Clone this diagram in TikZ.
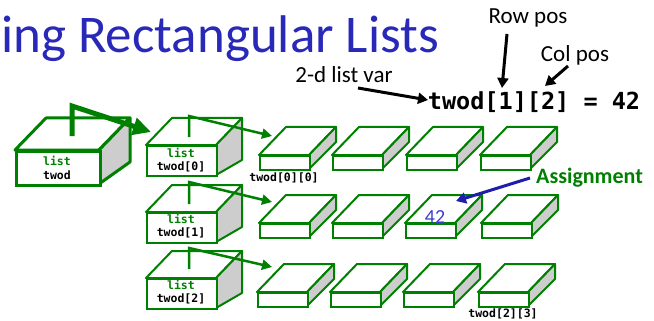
\documentclass[tikz,border=0pt]{standalone}
\usepackage{fontspec}
\setmainfont{Carlito}
\newfontfamily\codefont{DejaVu Sans Mono}
\usetikzlibrary{calc,arrows.meta}
\definecolor{boxgreen}{RGB}{0,128,0}
\definecolor{titleblue}{RGB}{40,40,185}
\definecolor{numblue}{RGB}{60,60,205}
\definecolor{arrowblue}{RGB}{30,30,170}
\definecolor{sidegrey}{RGB}{205,205,205}
\tikzset{
  frontface/.style={draw=boxgreen, fill=white, inner sep=0pt, anchor=north west},
  facetop/.style={draw=boxgreen, fill=white, line join=round},
  faceside/.style={draw=boxgreen, fill=sidegrey, line join=round},
  code/.style={font=\codefont\bfseries\fontsize{11.5}{12}\selectfont, inner sep=0pt},
  label/.style={font=\fontsize{23}{25}\selectfont, inner sep=0pt},
  bigarrow/.style={draw=boxgreen, line width=5pt, -{Triangle[length=18pt,width=17pt]}},
  ptrarrow/.style={draw=boxgreen, line width=2.5pt, -{Triangle[length=10pt,width=10pt]}},
  blackarrow/.style={draw=black, line width=3pt, -{Triangle[length=10pt,width=11pt]}},
  bluearrow/.style={draw=arrowblue, line width=3pt, -{Triangle[length=10pt,width=11pt]}},
}
% #1 name, #2 x, #3 y (front top-left, pixels down), #4 width, #5 height,
% #6 depth dx, #7 rise of top back edge, #8 rise of bottom back edge, #9 line width
\newcommand\drawcube[9]{%
  \filldraw[facetop, line width=#9] (#2,#3) -- ++(#6,-#7) -- ++(#4,0) -- ++(-#6,#7) -- cycle;
  \filldraw[faceside, line width=#9] (#2+#4,#3) -- ++(#6,-#7) -- ++(0,#7-#8+#5) -- ++(-#6,#8) -- cycle;
  \node[frontface, line width=#9, minimum width=#4pt, minimum height=#5pt] (#1) at (#2,#3) {};
}
\begin{document}
\begin{tikzpicture}[x=1pt,y=-1pt]
\useasboundingbox (0,0) rectangle (654,321);
% title
\node[anchor=base west, inner sep=0pt, text=titleblue, font=\fontsize{53}{58}\selectfont] (title) at (1,53) {ing Rectangular Lists};
% big list box
\drawcube{L}{15}{150}{84}{34}{31}{32}{22}{3pt}
\node[code, text=boxgreen] (Llist) at (57,161) {list};
\node[code] (Lname) at (57,175) {twod};
% row list boxes
\drawcube{L0}{146}{145}{70}{30}{26}{27}{15}{2pt}
\drawcube{L1}{146}{212}{70}{30}{26}{27}{15}{2pt}
\drawcube{L2}{146}{278}{70}{30}{26}{27}{15}{2pt}
\node[code, text=boxgreen] (L0list) at (181,153) {list};
\node[code] (L0name) at (181,167) {twod[0]};
\node[code, text=boxgreen] (L1list) at (181,219) {list};
\node[code] (L1name) at (181,233) {twod[1]};
\node[code, text=boxgreen] (L2list) at (181,285) {list};
\node[code] (L2name) at (181,299) {twod[2]};
% cells
\drawcube{c00}{259}{155}{50}{14}{27}{28}{27}{2pt}
\drawcube{c01}{332}{155}{50}{14}{27}{28}{27}{2pt}
\drawcube{c02}{406}{155}{50}{14}{27}{28}{27}{2pt}
\drawcube{c03}{480}{155}{50}{14}{27}{28}{27}{2pt}
\drawcube{c10}{259}{223}{50}{14}{27}{28}{27}{2pt}
\drawcube{c11}{332}{223}{50}{14}{27}{28}{27}{2pt}
\drawcube{c12}{405}{223}{50}{14}{27}{28}{27}{2pt}
\drawcube{c13}{481}{223}{50}{14}{27}{28}{27}{2pt}
\drawcube{c20}{257}{292}{50}{14}{27}{28}{27}{2pt}
\drawcube{c21}{330}{292}{50}{14}{27}{28}{27}{2pt}
\drawcube{c22}{403}{292}{50}{14}{27}{28}{27}{2pt}
\drawcube{c23}{478}{292}{50}{14}{27}{28}{27}{2pt}
\node[code] (lab00) at (284,178) {twod[0][0]};
\node[code] (lab23) at (503,314) {twod[2][3]};
\node[inner sep=0pt, text=numblue, font=\fontsize{20}{22}\selectfont] (val) at (435,217) {42};
% pointer arrows
\coordinate (Ls) at (72,136);
\coordinate (Lc) at (72,106);
\coordinate (Lt) at (151,132);
\draw[bigarrow] (Ls) -- (Lc) -- (Lt);
\coordinate (P0s) at (189,137);
\coordinate (P0c) at (189,116);
\coordinate (P0t) at (272,136);
\draw[ptrarrow] (P0s) -- (P0c) -- (P0t);
\coordinate (P1s) at (189,204);
\coordinate (P1c) at (189,182);
\coordinate (P1t) at (272,202);
\draw[ptrarrow] (P1s) -- (P1c) -- (P1t);
\coordinate (P2s) at (189,269);
\coordinate (P2c) at (189,248);
\coordinate (P2t) at (272,267);
\draw[ptrarrow] (P2s) -- (P2c) -- (P2t);
% annotations
\node[label] (rowpos) at (528,18) {Row pos};
\node[label] (colpos) at (575,55) {Col pos};
\node[label] (listvar) at (344,75) {2-d list var};
\node[inner sep=0pt, font=\codefont\bfseries\fontsize{23.5}{25}\selectfont] (stmt) at (534,102) {twod[1][2] = 42};
\coordinate (rowS) at (507,34);
\coordinate (rowT) at (502,88);
\draw[blackarrow] (rowS) -- (rowT);
\coordinate (colS) at (568,66);
\coordinate (colT) at (545,86);
\draw[blackarrow] (colS) -- (colT);
\coordinate (varS) at (358,88);
\coordinate (varT) at (428,100);
\draw[blackarrow] (varS) -- (varT);
\node[anchor=west, inner sep=0pt, text=boxgreen, font=\bfseries\fontsize{22}{24}\selectfont] (assign) at (536,178) {Assignment};
\coordinate (asT) at (456,201);
\draw[bluearrow] ($(assign.west)+(-6,0)$) -- (asT);
\end{tikzpicture}
\end{document}
